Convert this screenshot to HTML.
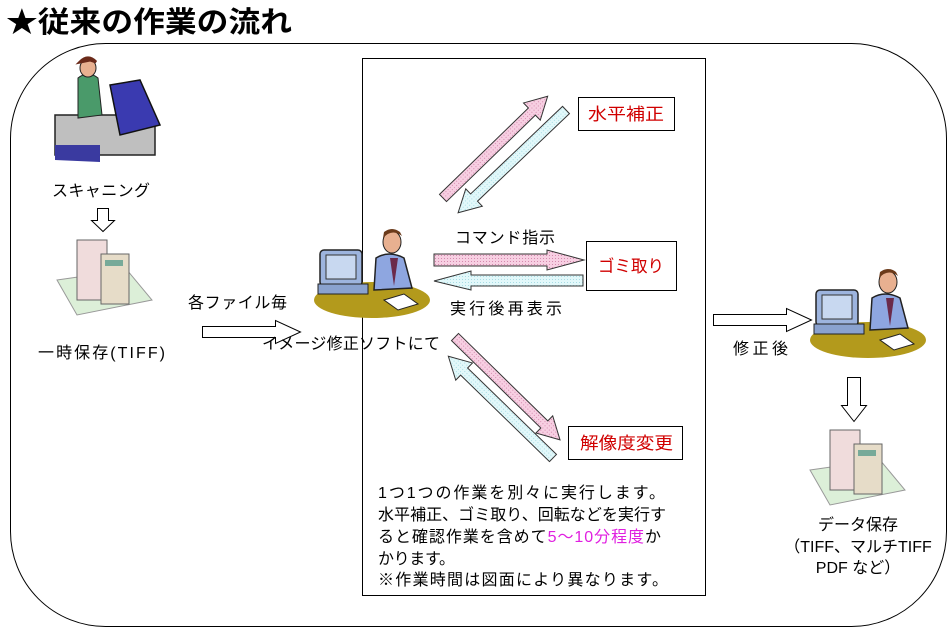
<!DOCTYPE html>
<html><head><meta charset="utf-8"><style>
html,body{margin:0;padding:0;background:#fff;}
svg{display:block;}
text{font-family:"Liberation Sans","Noto Sans CJK JP",sans-serif;}
</style></head><body>
<svg width="951" height="637" viewBox="0 0 951 637" xmlns="http://www.w3.org/2000/svg">
<defs>
<pattern id="pk" width="3" height="3" patternUnits="userSpaceOnUse"><rect width="3" height="3" fill="#f7cfe2"/><rect width="1" height="1" fill="#d48aae"/></pattern>
<pattern id="cy" width="3" height="3" patternUnits="userSpaceOnUse"><rect width="3" height="3" fill="#e2f8fa"/><rect width="1" height="1" fill="#a8dce4"/></pattern>
<g id="person">
 <ellipse cx="58" cy="72" rx="58" ry="18" fill="#b39a1c"/>
 <rect x="6" y="22" width="42" height="36" rx="4" fill="#9db4de" stroke="#222" stroke-width="1.5"/>
 <rect x="12" y="27" width="30" height="24" fill="#c8d8f0" stroke="#333"/>
 <rect x="4" y="56" width="50" height="10" fill="#8aa2cf" stroke="#222"/>
 <path d="M62 30 Q75 22 90 30 L98 60 L60 62 Z" fill="#8ea6e0" stroke="#222" stroke-width="1.5"/>
 <path d="M76 30 L80 58 L84 30 Z" fill="#6b2a4a"/>
 <ellipse cx="78" cy="14" rx="9" ry="11" fill="#e8b090" stroke="#222"/>
 <path d="M69 10 Q78 0 88 8 L86 4 Q78 -2 70 4 Z" fill="#6b3a1a"/>
 <polygon points="70,72 90,66 104,76 84,82" fill="#fff" stroke="#222"/>
</g>
<g id="server">
 <polygon points="0,40 70,30 95,60 20,75" fill="#dcefd8" stroke="#999"/>
 <rect x="20" y="0" width="30" height="60" fill="#f0dcdc" stroke="#666"/>
 <rect x="44" y="14" width="28" height="50" fill="#e6dcc8" stroke="#666"/>
 <rect x="48" y="20" width="18" height="6" fill="#7a9"/>
</g>
</defs>

<text x="6" y="32" font-size="29" font-weight="bold" fill="#000" textLength="286" lengthAdjust="spacingAndGlyphs">★従来の作業の流れ</text>

<rect x="10.5" y="43.5" width="936" height="583" rx="95" ry="95" fill="none" stroke="#000" stroke-width="1"/>
<rect x="362.5" y="58.5" width="343" height="537" fill="#fff" stroke="#000" stroke-width="1"/>

<g>
 <rect x="55" y="115" width="100" height="40" fill="#bfbfbf" stroke="#222" stroke-width="1.5"/>
 <polygon points="110,85 140,80 160,125 120,135" fill="#3a3ab0" stroke="#111" stroke-width="1.5"/>
 <polygon points="55,145 100,145 100,162 55,160" fill="#3a3aa0"/>
 <path d="M78 78 Q88 70 98 78 L102 115 L78 118 Z" fill="#4a9a6a" stroke="#222"/>
 <ellipse cx="88" cy="68" rx="8" ry="9" fill="#e8b090" stroke="#222"/>
 <path d="M80 62 Q88 54 96 62 L90 60 Z" fill="#6b2a1a" stroke="#6b2a1a" stroke-width="3"/>
</g>
<text x="52" y="196" font-size="16" textLength="98" lengthAdjust="spacing">スキャニング</text>
<polygon points="97.5,208.5 108.5,208.5 108.5,220.5 114.5,220.5 103,231.5 91.5,220.5 97.5,220.5" fill="#fff" stroke="#000"/>
<use href="#server" x="57" y="240"/>
<text x="38" y="358" font-size="16" textLength="127" lengthAdjust="spacing">一時保存(TIFF)</text>

<text x="188" y="308" font-size="16" textLength="99" lengthAdjust="spacing">各ファイル毎</text>
<polygon points="202.5,326.5 275.5,326.5 275.5,320.5 300.5,332 275.5,343.5 275.5,337.5 202.5,337.5" fill="#fff" stroke="#000"/>
<use href="#person" x="314" y="228"/>
<text x="262" y="349" font-size="16" textLength="178" lengthAdjust="spacing">イメージ修正ソフトにて</text>

<g transform="translate(443,198) rotate(-44.2)"><polygon points="0,-5 124,-5 124,-12 146,0 124,12 124,5 0,5" fill="url(#pk)" stroke="#333"/></g>
<g transform="translate(566,110) rotate(136.4)"><polygon points="0,-5 127,-5 127,-12 149,0 127,12 127,5 0,5" fill="url(#cy)" stroke="#333"/></g>
<g transform="translate(455,337) rotate(44.4)"><polygon points="0,-5 125,-5 125,-12 147,0 125,12 125,5 0,5" fill="url(#pk)" stroke="#333"/></g>
<g transform="translate(553,458) rotate(-135.8)"><polygon points="0,-5 124,-5 124,-12 146,0 124,12 124,5 0,5" fill="url(#cy)" stroke="#333"/></g>
<polygon points="434,254 547,254 547,250 584,260 547,270 547,266 434,266" fill="url(#pk)" stroke="#333"/>
<polygon points="583,275 471,275 471,271 434,281 471,290 471,286 583,286" fill="url(#cy)" stroke="#333"/>

<text x="455" y="243" font-size="16" textLength="100" lengthAdjust="spacing">コマンド指示</text>
<text x="450" y="314" font-size="16" textLength="112" lengthAdjust="spacing">実行後再表示</text>

<rect x="578.5" y="97.5" width="96" height="33" fill="#fff" stroke="#000"/>
<text x="588" y="120" font-size="17" fill="#d00000" textLength="76" lengthAdjust="spacingAndGlyphs">水平補正</text>
<rect x="586.5" y="241.5" width="90" height="49" fill="#fff" stroke="#000"/>
<text x="598" y="272" font-size="17" fill="#d00000" textLength="66" lengthAdjust="spacingAndGlyphs">ゴミ取り</text>
<rect x="568.5" y="426.5" width="114" height="33" fill="#fff" stroke="#000"/>
<text x="580" y="449" font-size="17" fill="#d00000" textLength="93" lengthAdjust="spacingAndGlyphs">解像度変更</text>

<g font-size="16">
<text x="378" y="498" textLength="287" lengthAdjust="spacing">1つ1つの作業を別々に実行します。</text>
<text x="378" y="520" textLength="288" lengthAdjust="spacing">水平補正、ゴミ取り、回転などを実行す</text>
<text x="378" y="542" textLength="283" lengthAdjust="spacing">ると確認作業を含めて<tspan fill="#e020e0">5～10分程度</tspan>か</text>
<text x="378" y="564" textLength="77" lengthAdjust="spacing">かります。</text>
<text x="378" y="585" textLength="290" lengthAdjust="spacing">※作業時間は図面により異なります。</text>
</g>

<polygon points="713.5,314.5 786.5,314.5 786.5,308.5 811.5,320 786.5,331.5 786.5,325.5 713.5,325.5" fill="#fff" stroke="#000"/>
<text x="733" y="354" font-size="16" textLength="55" lengthAdjust="spacing">修正後</text>
<use href="#person" x="810" y="268"/>
<polygon points="847.5,377.5 860.5,377.5 860.5,405.5 866.5,405.5 854,421.5 841.5,405.5 847.5,405.5" fill="#fff" stroke="#000"/>
<use href="#server" x="810" y="430"/>
<text x="858" y="530" font-size="16" text-anchor="middle">データ保存</text>
<text x="858" y="552" font-size="16" text-anchor="middle">（TIFF、マルチTIFF</text>
<text x="858" y="573" font-size="16" text-anchor="middle">PDF など）</text>
</svg>
</body></html>
